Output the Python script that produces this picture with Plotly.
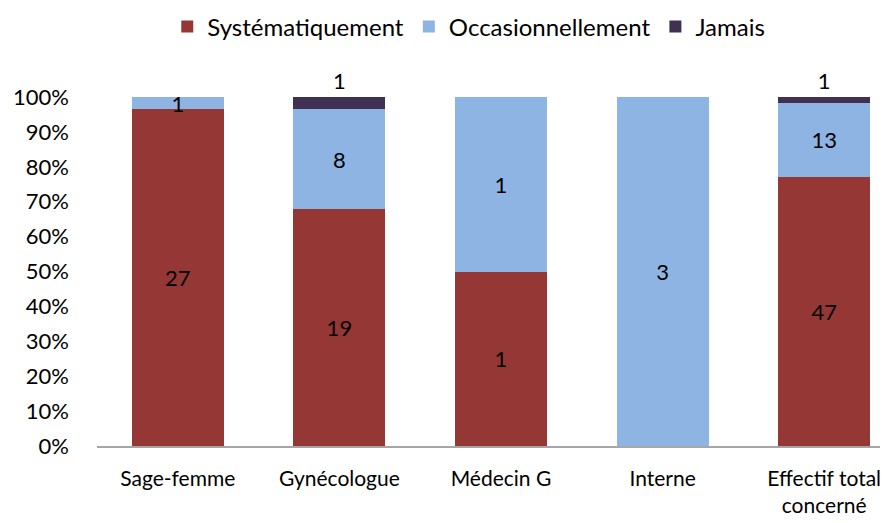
import plotly.graph_objects as go

categories = ["Sage-femme", "Gynécologue", "Médecin G", "Interne", "Effectif total<br>concerné"]
systematiquement = [27, 19, 1, 0, 47]
occasionnellement = [1, 8, 1, 3, 13]
jamais = [0, 1, 0, 0, 1]

series = [
    ("Systématiquement", systematiquement, "#953735"),
    ("Occasionnellement", occasionnellement, "#8EB4E3"),
    ("Jamais", jamais, "#403152"),
]

FONT = "Lato, Calibri, Carlito, sans-serif"

fig = go.Figure()
for name, vals, color in series:
    is_top = name == "Jamais"
    fig.add_trace(go.Bar(
        name=name, x=categories, y=vals,
        marker=dict(color=color, line=dict(width=0)),
        text=[str(v) if v else "" for v in vals],
        textposition="outside" if is_top else "inside",
        insidetextanchor="middle",
        textangle=0,
        constraintext="none",
        cliponaxis=False,
        textfont=dict(family=FONT, size=22, color="black"),
        outsidetextfont=dict(family=FONT, size=22, color="black"),
        insidetextfont=dict(family=FONT, size=22, color="black"),
    ))

# page body has an 8px margin, so the figure is 880x515 placed at (8, 8)
fig.update_layout(
    width=880, height=515,
    barmode="stack", barnorm="percent", bargap=0.43,
    margin=dict(l=89, r=0, t=89, b=77, autoexpand=False),
    paper_bgcolor="white", plot_bgcolor="white",
    font=dict(family=FONT, size=20, color="black"),
    showlegend=True,
    legend=dict(orientation="h", x=0.47, xanchor="center", y=1.265, yanchor="top",
                font=dict(family=FONT, size=24, color="black"),
                itemwidth=30, traceorder="normal"),
    xaxis=dict(showgrid=False, showline=True, linecolor="#a6a6a6", linewidth=1.5,
               ticks="", range=[-0.5, 4.395], tickfont=dict(size=21),
               ticklabelstandoff=13, automargin=False),
    yaxis=dict(showgrid=False, showline=False, range=[0, 100], dtick=10,
               ticksuffix="%", ticks="", zeroline=False, ticklabelstandoff=27,
               tickfont=dict(size=22), automargin=False),
)

fig.write_html("out.html")
